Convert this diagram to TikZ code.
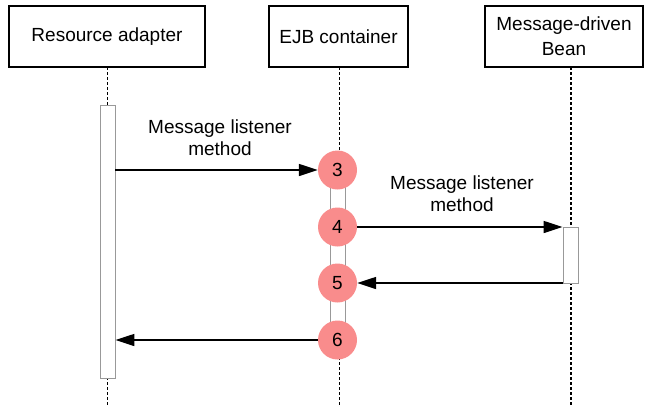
\documentclass[tikz,border=0pt]{standalone}
\usepackage{fontspec}
\setmainfont{Liberation Sans}
\usetikzlibrary{arrows.meta}
\definecolor{stepred}{RGB}{249,140,140}
\begin{document}
\begin{tikzpicture}[x=1pt,y=-1pt,
  head/.style={draw, line width=1.7pt, minimum height=61pt, inner sep=0pt, font=\fontsize{19}{25}\selectfont, align=center},
  life/.style={line width=1.7pt, dash pattern=on 3pt off 2pt},
  act/.style={draw=gray!80, fill=white, line width=0.9pt, minimum width=15pt, inner sep=0pt},
  num/.style={circle, fill=stepred, minimum size=39pt, inner sep=0pt, font=\fontsize{19}{22}\selectfont},
  msg/.style={line width=1.6pt, -{Triangle[length=19pt,width=12pt]}},
  lbl/.style={font=\fontsize{19}{22}\selectfont, align=center}
]
\useasboundingbox (0,0) rectangle (646,407);
% heads
\node[head, minimum width=196pt] (ra) at (107,36.5) {Resource adapter};
\node[head, minimum width=139pt] (ejb) at (338.5,36.5) {EJB container};
\node[head, minimum width=158pt] (mdb) at (564,36.5) {Message-driven\\Bean};
% lifelines
\coordinate (raTop) at (107.5,67);   \coordinate (raBot) at (107.5,407);
\coordinate (ejbTop) at (339.5,67);  \coordinate (ejbBot) at (339.5,407);
\coordinate (mdbTop) at (571,67);    \coordinate (mdbBot) at (571,407);
\draw[life] (raTop) -- (raBot);
\draw[life] (ejbTop) -- (ejbBot);
\draw[life] (mdbTop) -- (mdbBot);
% activations
\node[act, minimum height=273pt] (raact) at (107.5,241.5) {};
\node[act, minimum height=170pt] (ejbact) at (338,255) {};
\node[act, minimum height=56pt] (mdbact) at (570.5,255) {};
% steps
\node[num] (c3) at (337.5,170) {3};
\node[num] (c4) at (337.5,227) {4};
\node[num] (c5) at (337.5,283) {5};
\node[num] (c6) at (337.5,340) {6};
% messages
\draw[msg] (raact.east |- c3) -- (c3.west);
\draw[msg] (c4.east) -- (mdbact.west |- c4);
\draw[msg] (mdbact.west |- c5) -- (c5.east);
\draw[msg] (c6.west) -- (raact.east |- c6);
% labels
\node[lbl] (l1) at (220,138) {Message listener\\method};
\node[lbl] (l2) at (462,194) {Message listener\\method};
\end{tikzpicture}
\end{document}
